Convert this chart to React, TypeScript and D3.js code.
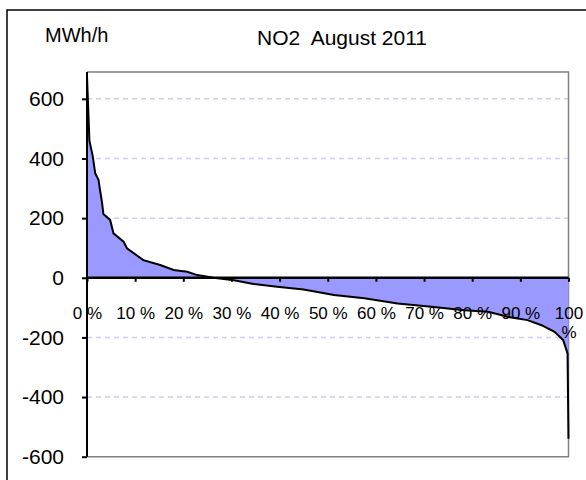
import {useEffect, useRef} from "react";
import * as d3 from "d3";

// duration curve: share of hours (%) and MWh/h
const shares = [0, 0.5, 1.2, 1.7, 2.4, 2.7, 3.1, 3.4, 4.8, 5.5, 7.6, 8.3, 11.7, 15.2, 18, 20.8, 22.9, 26.3, 30.5, 34.6, 39.5, 45, 51.3, 57.6, 64.5, 71.5, 78.4, 83.3, 87.4, 91.5, 94.4, 97.1, 98.9, 99.8, 100];
const flows = [676, 460, 407, 351, 328, 295, 255, 214, 194, 149, 121, 99, 59, 43, 26, 20, 9, 0, -8, -21, -30, -39, -58, -69, -86, -97, -109, -114, -131, -142, -159, -181, -209, -254, -540];

const xTicks = [0, 10, 20, 30, 40, 50, 60, 70, 80, 90, 100];
const yTicks = [-600, -400, -200, 0, 200, 400, 600];
const gridValues = [-400, -200, 200, 400, 600];

const title = "NO2  August 2011";
const unitLabel = "MWh/h";

export default function App() {
    const ref = useRef<SVGSVGElement>(null);

    useEffect(() => {
        const el = ref.current;
        if(!el) return;
        const svg = d3.select(el);
        svg.selectAll("*").remove();

        const width = 586;
        const height = 480;
        const plot = {left: 87, right: 568.5, top: 72, bottom: 456.7};
        const font = "'Liberation Sans', Arial, sans-serif";

        const data = shares.map((s, i) => ({share: s, value: flows[i]}));

        const x = d3.scaleLinear().domain([0, 100]).range([plot.left, plot.right]);
        const y = d3.scaleLinear().domain([-600, 690]).range([plot.bottom, plot.top]);

        svg.attr("width", width).attr("height", height);

        // outer chart border (runs past the right and bottom edges)
        svg.append("rect")
            .attr("x", 7).attr("y", 10)
            .attr("width", width).attr("height", height)
            .attr("fill", "white")
            .attr("stroke", "#000").attr("stroke-width", 1.5);

        // gridlines
        svg.append("g")
            .selectAll("line")
            .data(gridValues)
            .join("line")
            .attr("x1", plot.left).attr("x2", plot.right)
            .attr("y1", (d) => y(d)).attr("y2", (d) => y(d))
            .attr("stroke", "#ccccff")
            .attr("stroke-width", 1.5)
            .attr("stroke-dasharray", "5,4");

        // plot frame (top, right, bottom in grey)
        svg.append("path")
            .attr("d", `M${plot.left},${plot.top}H${plot.right}V${plot.bottom}H${plot.left}`)
            .attr("fill", "none")
            .attr("stroke", "#808080")
            .attr("stroke-width", 1.5);

        const area = d3.area<{share: number, value: number}>()
            .x((d) => x(d.share))
            .y0(y(0))
            .y1((d) => y(d.value));

        svg.append("path")
            .datum(data)
            .attr("d", area)
            .attr("fill", "#9999ff");

        const line = d3.line<{share: number, value: number}>()
            .x((d) => x(d.share))
            .y((d) => y(d.value));

        svg.append("path")
            .datum(data)
            .attr("d", line)
            .attr("fill", "none")
            .attr("stroke", "#000")
            .attr("stroke-width", 2);

        // y axis
        svg.append("g")
            .attr("transform", `translate(${plot.left},0)`)
            .call(d3.axisLeft(y).tickValues(yTicks).tickSize(5).tickPadding(18).tickFormat((v) => String(v)))
            .call((g) => g.select(".domain").attr("stroke", "#000").attr("stroke-width", 2)
                .attr("d", `M0,${plot.top}V${plot.bottom}`))
            .call((g) => g.selectAll("line").attr("stroke", "#000").attr("stroke-width", 2))
            .call((g) => g.selectAll("text")
                .attr("fill", "#000")
                .attr("font-size", 21)
                .attr("font-family", font));

        // x axis along zero
        const xAxis = svg.append("g")
            .attr("transform", `translate(0,${y(0)})`)
            .call(d3.axisBottom(x).tickValues(xTicks).tickSize(4).tickFormat(() => ""))
            .call((g) => g.select(".domain").attr("stroke", "#000").attr("stroke-width", 2.5)
                .attr("d", `M${plot.left},0H${plot.right}`))
            .call((g) => g.selectAll("line").attr("stroke", "#000").attr("stroke-width", 2));

        xAxis.selectAll(".tick")
            .append("text")
            .attr("fill", "#000")
            .attr("font-size", 17)
            .attr("font-family", font)
            .attr("text-anchor", "middle")
            .each(function(d) {
                const t = d3.select(this);
                if(d === 100) {
                    t.append("tspan").attr("x", 0).attr("y", 41).text("100");
                    t.append("tspan").attr("x", 0).attr("y", 60).text("%");
                } else {
                    t.append("tspan").attr("x", 0).attr("y", 41).text(`${d} %`);
                }
            });

        svg.append("text")
            .attr("x", 45).attr("y", 42)
            .attr("font-size", 20)
            .attr("font-family", font)
            .text(unitLabel);

        svg.append("text")
            .attr("x", 342).attr("y", 45)
            .attr("text-anchor", "middle")
            .attr("font-size", 21)
            .attr("font-family", font)
            .attr("xml:space", "preserve")
            .style("white-space", "pre")
            .text(title);
    }, []);

    return <svg ref={ref} style={{position: "absolute", left: 0, top: 0}} />;
}
